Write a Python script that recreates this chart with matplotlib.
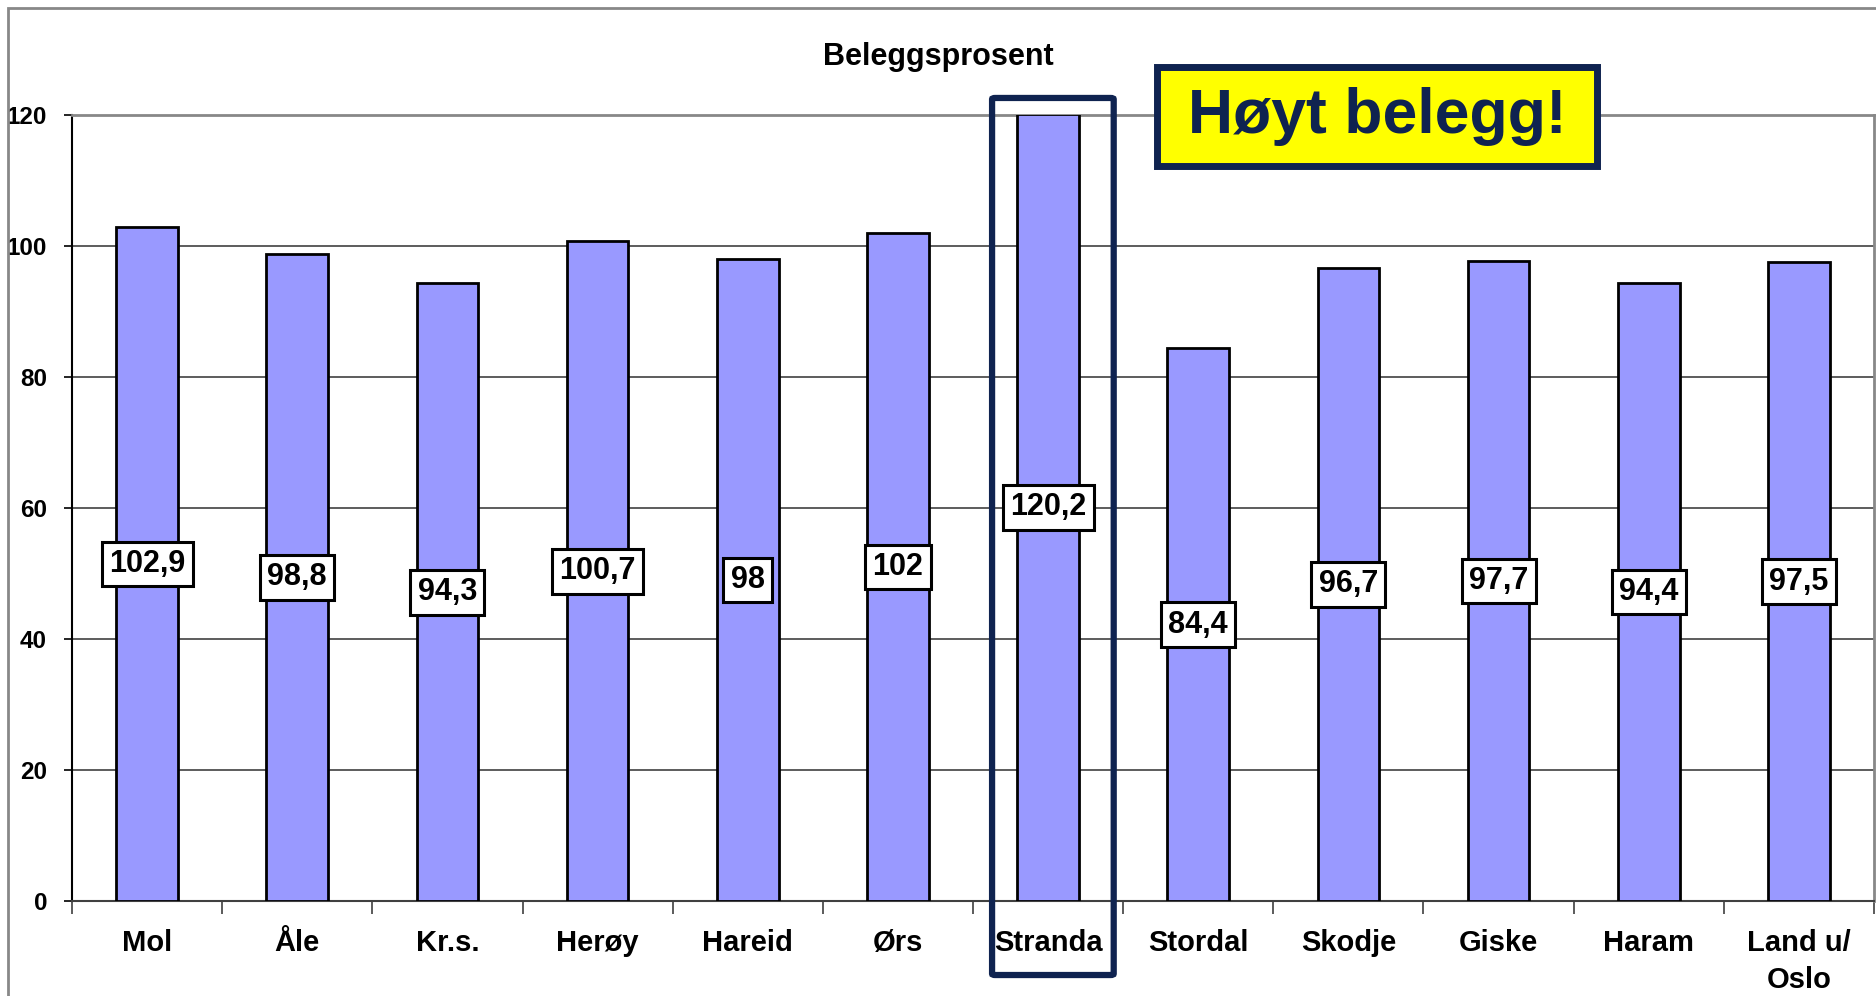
import matplotlib
matplotlib.use("Agg")
import matplotlib.pyplot as plt
from matplotlib.patches import FancyBboxPatch, Rectangle
import numpy as np

categories = ["Mol", "Åle", "Kr.s.", "Herøy", "Hareid", "Ørs", "Stranda",
              "Stordal", "Skodje", "Giske", "Haram", "Land u/\nOslo"]
values = [102.9, 98.8, 94.3, 100.7, 98.0, 102.0, 120.2, 84.4, 96.7, 97.7, 94.4, 97.5]
value_labels = ["102,9", "98,8", "94,3", "100,7", "98", "102", "120,2",
                "84,4", "96,7", "97,7", "94,4", "97,5"]
yticks = [0, 20, 40, 60, 80, 100, 120]
title = "Beleggsprosent"
callout = "Høyt belegg!"
highlight = "Stranda"

NARROW = ["Liberation Sans Narrow", "Liberation Sans", "DejaVu Sans"]
plt.rcParams["font.family"] = NARROW

W, H = 1876, 996
fig = plt.figure(figsize=(W / 100, H / 100), dpi=100)
ax = fig.add_axes([72 / W, 1 - 901 / H, (1874 - 72) / W, (901 - 115) / H])

x = np.arange(len(categories))
ax.bar(x, values, width=0.41, color="#9999FF", edgecolor="black", linewidth=2, zorder=3)

ax.set_xlim(-0.5, len(categories) - 0.5)
ax.set_ylim(0, 120)
ax.set_yticks(yticks)
ax.set_yticklabels([str(t) for t in yticks], fontsize=17.5, fontweight="bold")
ax.set_xticks(x)
ax.set_xticklabels(categories, fontsize=21, fontweight="bold", linespacing=1.4)
ax.set_xticks(np.arange(len(categories) + 1) - 0.5, minor=True)
ax.tick_params(axis="x", which="major", length=0, pad=20)
ax.tick_params(axis="x", which="minor", length=9, width=1.2, color="#404040", direction="out")
ax.tick_params(axis="y", length=6, width=1.2, pad=12, direction="out")

ax.yaxis.grid(True, color="#303030", linewidth=1.1, zorder=0)
ax.set_axisbelow(True)
for s in ["top", "right"]:
    ax.spines[s].set_color("#888888")
    ax.spines[s].set_linewidth(2)
ax.spines["left"].set_color("black")
ax.spines["left"].set_linewidth(1.5)
ax.spines["bottom"].set_color("#404040")
ax.spines["bottom"].set_linewidth(1.5)

# value labels at middle of bars
for xi, v, lab in zip(x, values, value_labels):
    ax.text(xi, v / 2, lab, ha="center", va="center",
            fontsize=22, fontweight="bold", zorder=5,
            bbox=dict(boxstyle="square,pad=0.24", fc="white", ec="black", lw=2.2))

# title
fig.text(938 / W, 1 - 57 / H, title, ha="center", va="center",
         fontsize=22, fontweight="bold")

# highlight box around Stranda
hi = categories.index(highlight)
hb = FancyBboxPatch((hi - 0.373, -11.3), 0.81, 133.9,
                    boxstyle="round,pad=0,rounding_size=0.02",
                    fc="none", ec="#0f2350", lw=4.5, clip_on=False, zorder=6,
                    mutation_aspect=10)
ax.add_patch(hb)

# callout box
cb = Rectangle((6.727, 112.2), 2.926, 15.1, fc="#FFFF00", ec="#0f2350",
               lw=5, clip_on=False, zorder=7)
ax.add_patch(cb)
ax.text(6.727 + 2.926 / 2, 112.2 + 15.1 / 2, callout, ha="center", va="center",
        fontsize=45, fontweight="bold", color="#0f2350", zorder=8,
        family=["Liberation Sans", "DejaVu Sans"], clip_on=False)

# outer frame
fig.patches.append(Rectangle((8 / W, -0.05), (1874 - 8) / W + 0.01, 1 - 8 / H + 0.05,
                             transform=fig.transFigure, fc="none", ec="#888888",
                             lw=2, zorder=0))

fig.savefig("out.png", dpi=100)
